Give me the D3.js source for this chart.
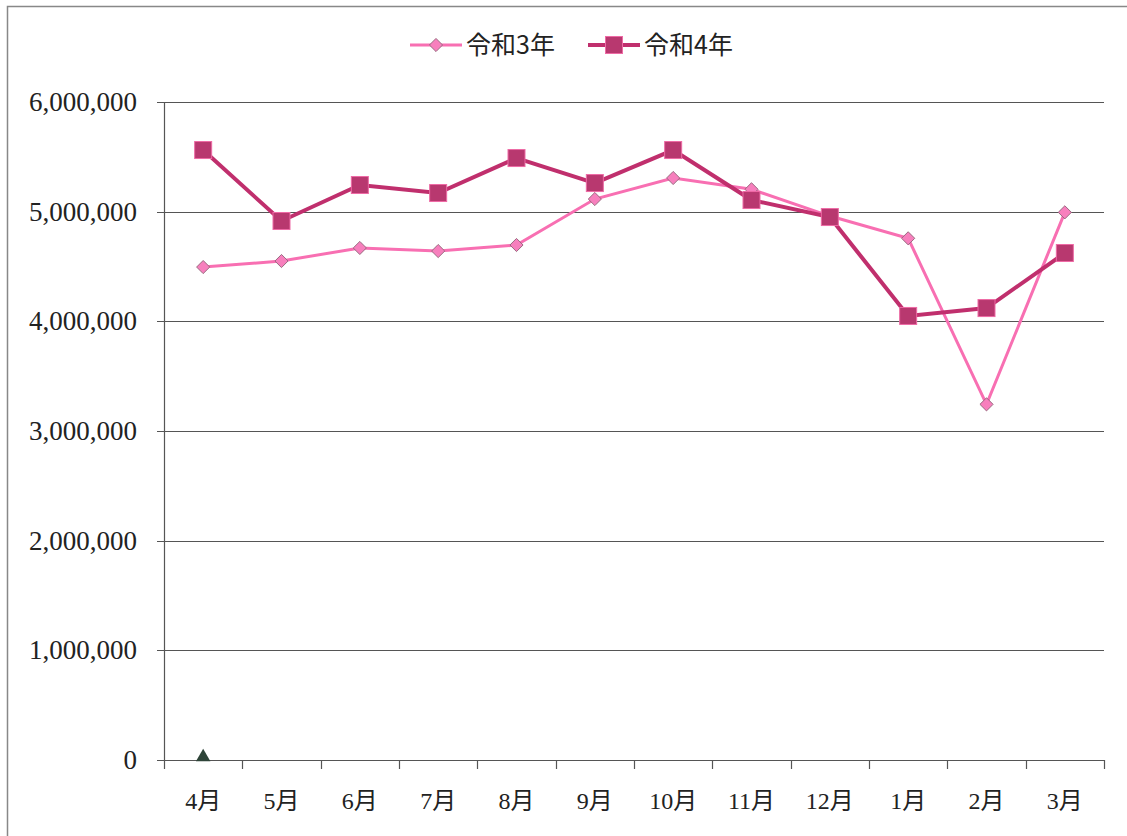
<!DOCTYPE html>
<html>
<head>
<meta charset="utf-8">
<script src="https://cdn.jsdelivr.net/npm/d3@7"></script>
<style>
  body { margin: 0; background: #fff; }
  svg { display: block; }
</style>
</head>
<body>
<div id="chart"></div>
<script>
// データ
const months = ['4月', '5月', '6月', '7月', '8月', '9月', '10月', '11月', '12月', '1月', '2月', '3月'];
const r3Values = [4495000, 4550000, 4669000, 4641000, 4696000, 5115000, 5307000, 5204000, 4960000, 4757000, 3243000, 4994000];
const r4Values = [5562000, 4915000, 5243000, 5170000, 5489000, 5261000, 5562000, 5106000, 4951000, 4049000, 4121000, 4623000];
const markerValues = [0];  // 4月の0の三角
const yTicks = [0, 1000000, 2000000, 3000000, 4000000, 5000000, 6000000];
const seriesNames = ['令和3年', '令和4年'];

const width = 1127, height = 836;
const margin = { left: 164, right: 23, top: 102, bottom: 76 };

const svg = d3.select('#chart').append('svg')
    .attr('width', width)
    .attr('height', height);

// 外枠
svg.append('path')
    .attr('d', `M7.5,${height} V6.5 H${width}`)
    .attr('fill', 'none')
    .attr('stroke', '#888')
    .attr('stroke-width', 1.5);

const x = d3.scaleBand()
    .domain(months)
    .range([margin.left, width - margin.right]);

const y = d3.scaleLinear()
    .domain([0, 6000000])
    .range([height - margin.bottom, margin.top]);

const serif = '"Liberation Serif", "Noto Sans CJK JP", serif';

// グリッド線
svg.append('g')
    .selectAll('line')
    .data(yTicks)
    .enter()
    .append('line')
    .attr('x1', margin.left - 7)
    .attr('x2', width - margin.right)
    .attr('y1', d => Math.round(y(d)) + 0.5)
    .attr('y2', d => Math.round(y(d)) + 0.5)
    .attr('stroke', '#555')
    .attr('stroke-width', 1.2);

// Y軸ラベル
svg.append('g')
    .selectAll('text')
    .data(yTicks)
    .enter()
    .append('text')
    .attr('x', 137)
    .attr('y', d => y(d) + 9)
    .attr('text-anchor', 'end')
    .style('font-family', serif)
    .style('font-size', '27px')
    .attr('fill', '#222')
    .text(d => d3.format(',')(d));

// Y軸線
svg.append('line')
    .attr('x1', margin.left + 0.5)
    .attr('x2', margin.left + 0.5)
    .attr('y1', y(6000000))
    .attr('y2', y(0))
    .attr('stroke', '#555')
    .attr('stroke-width', 1.2);

// X軸の目盛り
const xTickPos = months.map(m => x(m)).concat([width - margin.right]);
svg.append('g')
    .selectAll('line')
    .data(xTickPos)
    .enter()
    .append('line')
    .attr('x1', d => Math.round(d) + 0.5)
    .attr('x2', d => Math.round(d) + 0.5)
    .attr('y1', y(0))
    .attr('y2', y(0) + 9)
    .attr('stroke', '#555')
    .attr('stroke-width', 1.2);

// X軸ラベル
svg.append('g')
    .selectAll('text')
    .data(months)
    .enter()
    .append('text')
    .attr('x', d => x(d) + x.bandwidth() / 2)
    .attr('y', y(0) + 49)
    .attr('text-anchor', 'middle')
    .style('font-family', serif)
    .style('font-size', '24px')
    .attr('fill', '#222')
    .text(d => d);

const cx = (d, i) => x(months[i]) + x.bandwidth() / 2;

// 令和3年
const line = d3.line().x(cx).y(d => y(d));
svg.append('path')
    .datum(r3Values)
    .attr('d', line)
    .attr('fill', 'none')
    .attr('stroke', '#f86fb2')
    .attr('stroke-width', 3);

svg.append('g')
    .selectAll('path')
    .data(r3Values)
    .enter()
    .append('path')
    .attr('d', d3.symbol().type(d3.symbolDiamond2).size(110))
    .attr('transform', (d, i) => `translate(${cx(d, i)},${y(d)})`)
    .attr('fill', '#f77fbd')
    .attr('stroke', '#9a6a80')
    .attr('stroke-width', 1);

// 令和4年
svg.append('path')
    .datum(r4Values)
    .attr('d', line)
    .attr('fill', 'none')
    .attr('stroke', '#c02f6d')
    .attr('stroke-width', 4);

svg.append('g')
    .selectAll('rect')
    .data(r4Values)
    .enter()
    .append('rect')
    .attr('x', (d, i) => cx(d, i) - 8.5)
    .attr('y', d => y(d) - 8.5)
    .attr('width', 17)
    .attr('height', 17)
    .attr('fill', '#b8386f')
    .attr('stroke', '#ee6aa5')
    .attr('stroke-width', 1);

// 0の三角マーカー
svg.append('g')
    .selectAll('path')
    .data(markerValues)
    .enter()
    .append('path')
    .attr('d', d3.symbol().type(d3.symbolTriangle).size(90))
    .attr('transform', (d, i) => `translate(${cx(d, i)},${y(d) - 3})`)
    .attr('fill', '#2e4438');

// 凡例
const legend = svg.append('g');
const legendItems = [
    { name: seriesNames[0], x: 410, color: '#f86fb2', width: 3 },
    { name: seriesNames[1], x: 588, color: '#c02f6d', width: 4 }
];
legendItems.forEach((item, i) => {
    const g = legend.append('g').attr('transform', `translate(${item.x},45)`);
    g.append('line')
        .attr('x1', 0).attr('x2', 52)
        .attr('y1', 0).attr('y2', 0)
        .attr('stroke', item.color)
        .attr('stroke-width', item.width);
    if (i === 0) {
        g.append('path')
            .attr('d', d3.symbol().type(d3.symbolDiamond2).size(110))
            .attr('transform', 'translate(26,0)')
            .attr('fill', '#f77fbd')
            .attr('stroke', '#9a6a80');
    } else {
        g.append('rect')
            .attr('x', 17.5).attr('y', -8.5)
            .attr('width', 17).attr('height', 17)
            .attr('fill', '#b8386f')
            .attr('stroke', '#ee6aa5');
    }
    g.append('text')
        .attr('x', 56)
        .attr('y', 9)
        .style('font-family', '"Noto Sans CJK JP", sans-serif')
        .style('font-size', '25px')
        .attr('fill', '#222')
        .text(item.name);
});
</script>
</body>
</html>
